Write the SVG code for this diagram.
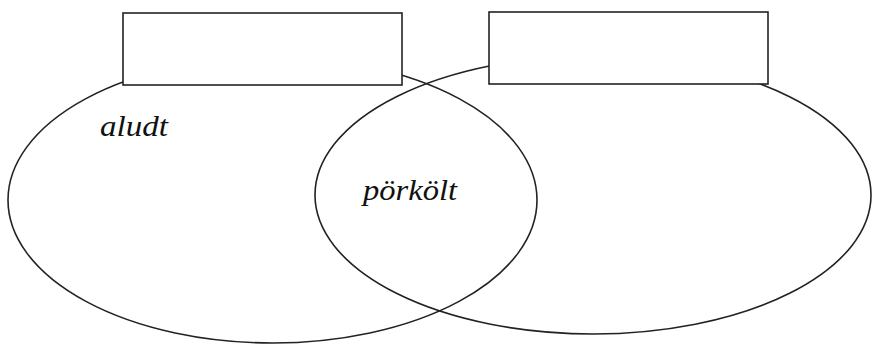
<svg xmlns="http://www.w3.org/2000/svg" width="872" height="345" viewBox="0 0 872 345">
<style>
.shape{fill:none;stroke:#222;stroke-width:1.6}
.box{fill:#fff;stroke:#222;stroke-width:1.6}
.lbl{font-family:"Liberation Serif","Times New Roman",serif;font-style:italic;font-size:30px;fill:#111}
</style>
<rect width="872" height="345" fill="#fff"/>
<g id="set-left">
<ellipse class="shape" cx="272.5" cy="200" rx="264.5" ry="143"/>
</g>
<g id="set-right">
<ellipse class="shape" cx="593" cy="195" rx="278" ry="139"/>
</g>
<g id="box-left">
<rect class="box" x="123" y="13" width="279" height="72"/>
</g>
<g id="box-right">
<rect class="box" x="489" y="12" width="279" height="72"/>
</g>
<g id="label-aludt">
<text class="lbl" x="100" y="136" textLength="68" lengthAdjust="spacingAndGlyphs">aludt</text>
</g>
<g id="label-porkolt">
<text class="lbl" x="363" y="200" textLength="94" lengthAdjust="spacingAndGlyphs">pörkölt</text>
</g>
<g id="connectors"></g>
</svg>
